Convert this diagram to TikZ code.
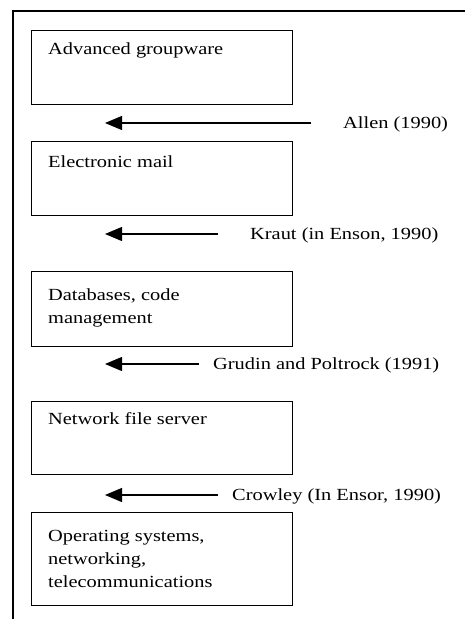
\documentclass[tikz,border=0pt]{standalone}
\usepackage{fontspec}
\setmainfont{Liberation Serif}[FakeStretch=1.2]
\usetikzlibrary{arrows.meta}

\begin{document}
\begin{tikzpicture}[x=1pt,y=-1pt,
  level/.style={draw, line width=1.4pt, minimum width=261pt, inner sep=0pt, anchor=north west},
  leveltext/.style={anchor=base west, inner sep=0pt, align=left, font=\fontsize{17}{23}\selectfont},
  source/.style={anchor=west, inner sep=0pt, text height=12pt, text depth=2pt, font=\fontsize{17}{23}\selectfont},
  citearrow/.style={-{Triangle[length=17pt,width=14pt]}, line width=1.2pt}]
\useasboundingbox (0,0) rectangle (465,619);
% frame
\draw[line width=2pt] (465,11) -- (13,11) -- (13,619);
% levels
\node[level, minimum height=74pt] (groupware) at (31,30) {};
\node[level, minimum height=74pt] (email) at (31,141) {};
\node[level, minimum height=75pt] (database) at (31,271) {};
\node[level, minimum height=73pt] (fileserver) at (31,401) {};
\node[level, minimum height=93pt] (opsys) at (31,512) {};
% text sits on the baseline of its last line
\node[leveltext] (groupware text) at (48,54) {Advanced groupware};
\node[leveltext] (email text) at (48,167) {Electronic mail};
\node[leveltext] (database text) at (48,323) {Databases, code\\management};
\node[leveltext] (fileserver text) at (48,424) {Network file server};
\node[leveltext] (opsys text) at (48,587) {Operating systems,\\networking,\\telecommunications};
% sources
\node[source] (allen) at (343,123) {Allen (1990)};
\node[source] (kraut) at (250,234) {Kraut (in Enson, 1990)};
\node[source] (grudin) at (213,364) {Grudin and Poltrock (1991)};
\node[source] (crowley) at (232,495) {Crowley (In Ensor, 1990)};
\coordinate (tip1) at (105,123);
\coordinate (tip2) at (105,234);
\coordinate (tip3) at (105,364);
\coordinate (tip4) at (105,495);
\draw[citearrow] ([xshift=-32pt]allen.west) -- (tip1);
\draw[citearrow] ([xshift=-32pt]kraut.west) -- (tip2);
\draw[citearrow] ([xshift=-14pt]grudin.west) -- (tip3);
\draw[citearrow] ([xshift=-14pt]crowley.west) -- (tip4);
\end{tikzpicture}
\end{document}
